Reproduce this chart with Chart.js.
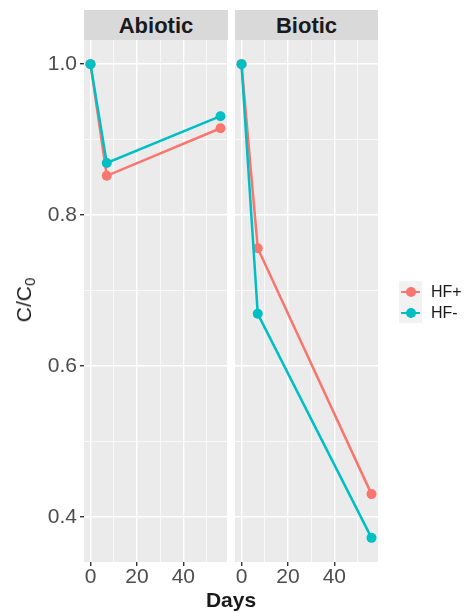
<!DOCTYPE html>
<html>
<head>
<meta charset="utf-8">
<script src="https://cdn.jsdelivr.net/npm/chart.js@4/dist/chart.umd.min.js"></script>
<style>
  html, body { margin:0; padding:0; background:#fff; }
  #wrap { position:relative; width:465px; height:613px; overflow:hidden; font-family:"Liberation Sans", Arial, sans-serif; }
  canvas { position:absolute; top:0; }
  .strip { position:absolute; top:10px; height:30px; background:#D9D9D9; color:#1A1A1A; font-weight:bold; font-size:22px; line-height:30px; text-align:center; padding-top:1px; box-sizing:border-box; }
  #ytitle { position:absolute; left:24px; top:300px; transform:translate(-50%,-50%) rotate(-90deg); font-size:21px; color:#1A1A1A; white-space:nowrap; }
  #ytitle sub { font-size:15px; vertical-align:-4px; line-height:0; }
  #xtitle { position:absolute; left:84px; width:294px; top:589px; height:21px; line-height:21px; text-align:center; font-weight:bold; font-size:21px; color:#1A1A1A; }
  .leg { position:absolute; left:399px; height:21px; display:flex; align-items:center; font-size:16px; color:#1A1A1A; }
  .key { position:relative; width:23px; height:21px; background:#F2F2F2; margin-right:9px; }
  .key .ln { position:absolute; left:2px; right:2px; top:9.5px; height:2.5px; }
  .key .pt { position:absolute; left:6.5px; top:5.5px; width:10px; height:10px; border-radius:50%; }
</style>
</head>
<body>
<div id="wrap">
  <canvas id="c1" width="232" height="613" style="left:0px;width:232px;height:613px"></canvas>
  <canvas id="c2" width="245" height="613" style="left:220px;width:245px;height:613px"></canvas>
  <div class="strip" style="left:84px;width:144px">Abiotic</div>
  <div class="strip" style="left:235px;width:143px">Biotic</div>
  <div id="ytitle">C/C<sub>0</sub></div>
  <div id="xtitle">Days</div>
  <div class="leg" style="top:281px"><div class="key"><div class="ln" style="background:#F8766D"></div><div class="pt" style="background:#F8766D"></div></div>HF+</div>
  <div class="leg" style="top:302px"><div class="key"><div class="ln" style="background:#00BFC4"></div><div class="pt" style="background:#00BFC4"></div></div>HF-</div>
</div>
<script>
// ---- data ----
const days = [0, 7, 56];
const abioticHFplus  = [1.0, 0.852, 0.915];
const abioticHFminus = [1.0, 0.869, 0.931];
const bioticHFplus   = [1.0, 0.756, 0.430];
const bioticHFminus  = [1.0, 0.669, 0.372];
const xTickLabels = [0, 20, 40];
const yTickLabels = ['0.4', '0.6', '0.8', '1.0'];
const seriesNames = ['HF+', 'HF-'];
const seriesColors = ['#F8766D', '#00BFC4'];

const FONT = '"Liberation Sans", Arial, sans-serif';

const panelBg = {
  id: 'panelBg',
  beforeDraw(chart) {
    const { ctx, chartArea: a } = chart;
    ctx.save();
    ctx.fillStyle = '#EBEBEB';
    ctx.fillRect(a.left, a.top, a.right - a.left, a.bottom - a.top);
    ctx.restore();
  }
};

function pts(vals) { return days.map((d, i) => ({ x: d, y: vals[i] })); }

function ds(name, color, vals, order) {
  return {
    label: name, data: pts(vals), borderColor: color, backgroundColor: color,
    borderWidth: 2.5, pointRadius: 5, pointHoverRadius: 5, pointBorderWidth: 0,
    tension: 0, order: order
  };
}

const isMajorX = v => xTickLabels.includes(Math.round(v));
const isMajorY = v => yTickLabels.includes((Math.round(v * 10) / 10).toFixed(1));

function makeChart(id, plus, minus, showY, yWidth, padding) {
  return new Chart(document.getElementById(id), {
    type: 'line',
    data: { datasets: [ds(seriesNames[0], seriesColors[0], plus, 2), ds(seriesNames[1], seriesColors[1], minus, 1)] },
    options: {
      responsive: false, animation: false, devicePixelRatio: 1,
      layout: { padding: padding },
      plugins: { legend: { display: false }, tooltip: { enabled: false } },
      scales: {
        x: {
          type: 'linear', min: -2.8, max: 58.8,
          border: { display: false },
          afterFit(s) { s.height = 51; },
          ticks: {
            stepSize: 10, includeBounds: false, autoSkip: false, maxRotation: 0, padding: 1,
            color: '#4D4D4D', font: { family: FONT, size: 21, lineHeight: 1 },
            callback: v => isMajorX(v) ? String(Math.round(v)) : ''
          },
          grid: {
            color: '#FFFFFF', tickLength: 4,
            lineWidth: c => isMajorX(c.tick.value) ? 1.4 : 0.7,
            tickColor: c => isMajorX(c.tick.value) ? '#333333' : 'rgba(0,0,0,0)'
          }
        },
        y: {
          type: 'linear', min: 0.34, max: 1.032,
          border: { display: false },
          afterFit(s) { s.width = yWidth; },
          ticks: {
            display: showY, stepSize: 0.1, includeBounds: false, autoSkip: false, padding: 3,
            color: '#4D4D4D', font: { family: FONT, size: 21, lineHeight: 1 },
            callback: v => isMajorY(v) ? (Math.round(v * 10) / 10).toFixed(1) : ''
          },
          grid: {
            color: '#FFFFFF', tickLength: 4, drawTicks: showY,
            lineWidth: c => isMajorY(c.tick.value) ? 1.4 : 0.7,
            tickColor: c => isMajorY(c.tick.value) ? '#333333' : 'rgba(0,0,0,0)'
          }
        }
      }
    },
    plugins: [panelBg]
  });
}

makeChart('c1', abioticHFplus, abioticHFminus, true, 84, { left: 0, top: 40, right: 4, bottom: 0 });
makeChart('c2', bioticHFplus, bioticHFminus, false, 15, { left: 0, top: 40, right: 87, bottom: 0 });
</script>
</body>
</html>
